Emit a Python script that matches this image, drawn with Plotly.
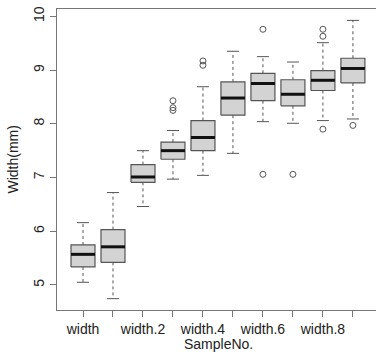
import plotly.graph_objects as go

labels = ["width", "width.1", "width.2", "width.3", "width.4",
          "width.5", "width.6", "width.7", "width.8", "width.9"]
lower_whisker = [5.05, 4.745, 6.46, 6.97, 7.04, 7.45, 8.04, 8.01, 8.06, 8.09]
q1 = [5.335, 5.42, 6.91, 7.34, 7.50, 8.16, 8.43, 8.335, 8.62, 8.76]
median = [5.57, 5.71, 7.01, 7.50, 7.745, 8.48, 8.75, 8.55, 8.81, 9.03]
q3 = [5.745, 6.03, 7.24, 7.66, 8.06, 8.78, 8.94, 8.82, 8.99, 9.22]
upper_whisker = [6.16, 6.72, 7.50, 7.875, 8.69, 9.35, 9.25, 9.15, 9.51, 9.925]
outliers = [[], [], [], [8.43, 8.30, 8.25], [9.17, 9.09], [],
            [9.76, 7.06], [7.06], [9.76, 9.63, 7.90], [7.97]]
y_ticks = [5, 6, 7, 8, 9, 10]

pos = list(range(1, len(labels) + 1))
hw = 0.4   # half box width
cw = 0.2   # half cap width

wx, wy, cx, cy, bx, by, mx, my, ox, oy = [], [], [], [], [], [], [], [], [], []
for i, x in enumerate(pos):
    wx += [x, x, None, x, x, None]
    wy += [q3[i], upper_whisker[i], None, q1[i], lower_whisker[i], None]
    cx += [x - cw, x + cw, None, x - cw, x + cw, None]
    cy += [upper_whisker[i], upper_whisker[i], None, lower_whisker[i], lower_whisker[i], None]
    bx += [x - hw, x + hw, x + hw, x - hw, x - hw, None]
    by += [q1[i], q1[i], q3[i], q3[i], q1[i], None]
    mx += [x - hw, x + hw, None]
    my += [median[i], median[i], None]
    for v in outliers[i]:
        ox.append(x)
        oy.append(v)

fig = go.Figure()
fig.add_trace(go.Scatter(x=wx, y=wy, mode="lines",
                         line=dict(color="#555555", width=1, dash="3px,3px"),
                         hoverinfo="skip"))
fig.add_trace(go.Scatter(x=cx, y=cy, mode="lines",
                         line=dict(color="#555555", width=1), hoverinfo="skip"))
fig.add_trace(go.Scatter(x=bx, y=by, mode="lines", fill="toself",
                         fillcolor="#d3d3d3",
                         line=dict(color="#555555", width=1.2), hoverinfo="skip"))
fig.add_trace(go.Scatter(x=mx, y=my, mode="lines",
                         line=dict(color="#111111", width=3), hoverinfo="skip"))
fig.add_trace(go.Scatter(x=ox, y=oy, mode="markers",
                         marker=dict(symbol="circle-open", size=6,
                                     color="#555555", line=dict(width=1)),
                         hoverinfo="skip"))

ticktext = [lab if i % 2 == 0 else "" for i, lab in enumerate(labels)]

font = dict(family="Liberation Sans, Arial, sans-serif", size=14, color="#222222")
fig.update_layout(
    width=376, height=360,
    margin=dict(l=57, r=0, t=9, b=50),
    paper_bgcolor="white", plot_bgcolor="white",
    showlegend=False, font=font, hovermode=False,
    xaxis=dict(range=[0.133, 10.77], tickvals=pos, ticktext=ticktext,
               ticks="outside", ticklen=6, tickcolor="#777777",
               showline=True, linecolor="#777777", linewidth=1, mirror=True,
               showgrid=False, zeroline=False, tickfont=font, automargin=False),
    yaxis=dict(range=[4.534, 10.137], tickvals=y_ticks,
               ticktext=[str(v) for v in y_ticks], tickangle=-90,
               ticks="outside", ticklen=6, tickcolor="#777777",
               showline=True, linecolor="#777777", linewidth=1,
               showgrid=False, zeroline=False, tickfont=font, automargin=False),
    annotations=[
        dict(text="SampleNo.", xref="paper", yref="paper", x=0.505, y=0,
             xanchor="center", yanchor="middle", yshift=-34, showarrow=False,
             font=font),
        dict(text="Width(mm)", xref="paper", yref="paper", x=0, y=0.5,
             xanchor="center", yanchor="middle", xshift=-45, textangle=-90,
             showarrow=False, font=font),
    ],
)

fig.write_html("out.html", config={"displayModeBar": False},
               post_script="document.body.style.margin='0';document.body.style.overflow='hidden';")
